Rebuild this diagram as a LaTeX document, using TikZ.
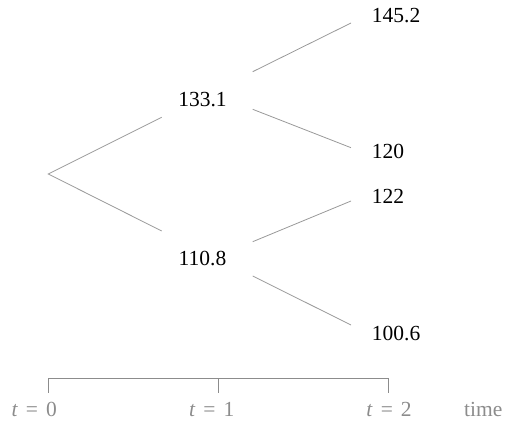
\documentclass[tikz,border=0pt]{standalone}
\usepackage{fontspec}
\setmainfont{Liberation Serif}
\newcommand{\teq}[1]{\textit{t}\hspace{0.37em}=\hspace{0.37em}#1}
\begin{document}
\begin{tikzpicture}[x=1pt,y=-1pt,
  val/.style={inner sep=0pt,font=\fontsize{21.5pt}{25pt}\selectfont,text=black},
  lbl/.style={inner sep=0pt,font=\fontsize{21.5pt}{25pt}\selectfont,text=black!45},
  branch/.style={draw=black!40,line width=0.8pt},
  axis/.style={draw=black!45,line width=0.8pt}]
\useasboundingbox (0,0) rectangle (508,420);
% value nodes
\node[val,anchor=base] (u) at (202.5,106) {133.1};
\node[val,anchor=base] (d) at (202.5,265) {110.8};
\node[val,anchor=base west] (uu) at (371.7,23) {145.2};
\node[val,anchor=base west] (ud) at (371.7,158.3) {120};
\node[val,anchor=base west] (du) at (371.7,203.3) {122};
\node[val,anchor=base west] (dd) at (371.7,340.5) {100.6};
% branch end points
\coordinate (root) at (48.3,174);
\coordinate (uin) at (161.7,117.3);
\coordinate (din) at (161.7,231);
\coordinate (uout1) at (252.7,71.7);
\coordinate (uout2) at (252.7,109.3);
\coordinate (dout1) at (252.7,241.7);
\coordinate (dout2) at (252.7,276);
\coordinate (uuin) at (351,23);
\coordinate (udin) at (351,147.7);
\coordinate (duin) at (351,201);
\coordinate (ddin) at (351,325);
\draw[branch] (uin) -- (root) -- (din);
\draw[branch] (uout1) -- (uuin);
\draw[branch] (uout2) -- (udin);
\draw[branch] (dout1) -- (duin);
\draw[branch] (dout2) -- (ddin);
% time axis
\coordinate (a0) at (48.3,392.7);
\coordinate (a0t) at (48.3,378.3);
\coordinate (a1) at (218.3,392.7);
\coordinate (a1t) at (218.3,378.3);
\coordinate (a2) at (388.7,392.7);
\coordinate (a2t) at (388.7,378.3);
\draw[axis] (a0) -- (a0t) -- (a2t) -- (a2);
\draw[axis] (a1t) -- (a1);
\node[lbl,anchor=base] (t0) at (34.2,416) {\teq{0}};
\node[lbl,anchor=base] (t1) at (211.7,416) {\teq{1}};
\node[lbl,anchor=base] (t2) at (389,416) {\teq{2}};
\node[lbl,anchor=base] (tm) at (483.3,416) {time};
\end{tikzpicture}
\end{document}
